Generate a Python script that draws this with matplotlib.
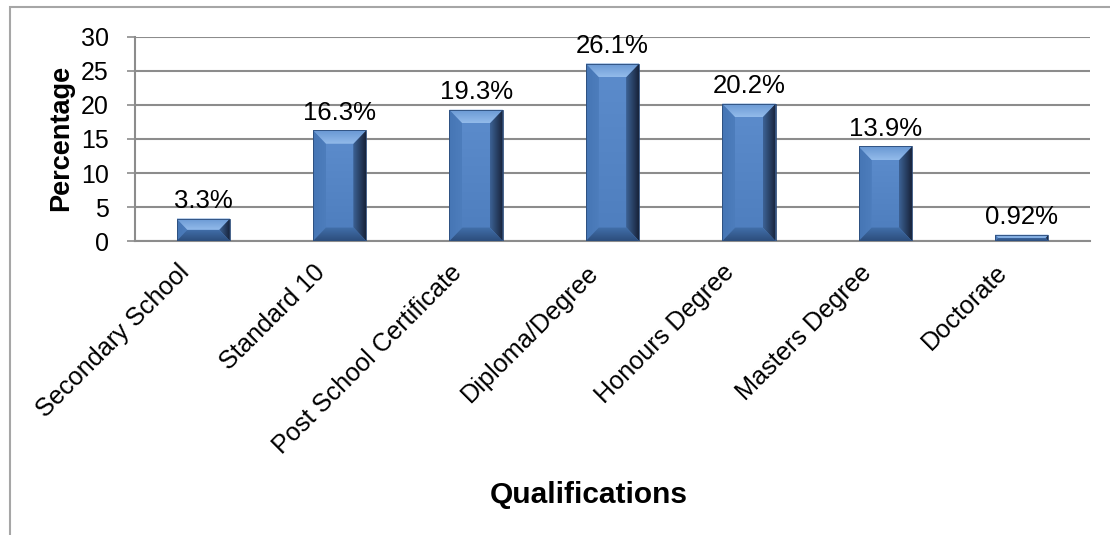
import numpy as np
import matplotlib.pyplot as plt
import matplotlib.transforms as mtransforms
from matplotlib.patches import Polygon, Rectangle
from matplotlib.colors import LinearSegmentedColormap

plt.rcParams['font.family'] = ['Liberation Sans', 'DejaVu Sans']

# qualification levels and share of respondents (%)
categories = ["Secondary School", "Standard 10", "Post School Certificate",
              "Diploma/Degree", "Honours Degree", "Masters Degree", "Doctorate"]
percentages = [3.3, 16.3, 19.3, 26.1, 20.2, 13.9, 0.92]
value_labels = ["3.3%", "16.3%", "19.3%", "26.1%", "20.2%", "13.9%", "0.92%"]
y_ticks = [0, 5, 10, 15, 20, 25, 30]

grid = "#8c8c8c"


def shade(ax, pts, c0, c1, horizontal):
    """fill polygon pts with a linear gradient c0 -> c1"""
    poly = Polygon(pts, closed=True, facecolor="none", edgecolor="none")
    ax.add_patch(poly)
    xs = [p[0] for p in pts]
    ys = [p[1] for p in pts]
    cmap = LinearSegmentedColormap.from_list("g", [c0, c1])
    ramp = np.linspace(0, 1, 64)
    arr = ramp[None, :] if horizontal else ramp[:, None]
    im = ax.imshow(arr, cmap=cmap, extent=(min(xs), max(xs), min(ys), max(ys)),
                   origin="lower", aspect="auto", interpolation="bilinear", zorder=4)
    im.set_clip_path(poly)


fig = plt.figure(figsize=(11.1, 5.35), dpi=100)
ax = fig.add_axes([135 / 1110, 1 - 241 / 535, (1090 - 135) / 1110, (241 - 37) / 535])

x = np.arange(len(categories))
bars = ax.bar(x, percentages, width=0.39, color="#5686c6", zorder=3)

# bevelled bars: light top edge, dark right and bottom edges
for b in bars:
    x0, w, h = b.get_x(), b.get_width(), b.get_height()
    x1 = x0 + w
    dy = min(2.0, h / 2)
    dx = 0.095 * dy / 2.0
    face = [(x0 + dx, dy), (x1 - dx, dy), (x1 - dx, h - dy), (x0 + dx, h - dy)]
    top = [(x0, h), (x1, h), (x1 - dx, h - dy), (x0 + dx, h - dy)]
    bot = [(x0, 0), (x1, 0), (x1 - dx, dy), (x0 + dx, dy)]
    left = [(x0, 0), (x0, h), (x0 + dx, h - dy), (x0 + dx, dy)]
    right = [(x1, 0), (x1, h), (x1 - dx, h - dy), (x1 - dx, dy)]
    if h - 2 * dy > 0:
        shade(ax, face, "#4f7fbf", "#5b8bcb", False)
    shade(ax, left, "#4676b5", "#4d7dbc", True)
    shade(ax, right, "#3d6295", "#17233a", True)
    shade(ax, bot, "#2c4d7c", "#4270ab", False)
    shade(ax, top, "#93bbea", "#6897d3", False)
    ax.add_patch(Rectangle((x0, 0), w, h, facecolor="none", edgecolor="#2a4a78",
                           linewidth=0.6, zorder=5))

for xi, v, lab in zip(x, percentages, value_labels):
    ax.annotate(lab, (xi, v), xytext=(0, 4), textcoords="offset points",
                ha="center", va="bottom", fontsize=18.5, color="black", zorder=6)

ax.set_xlim(-0.5, len(categories) - 0.5)
ax.set_ylim(0, 30)
ax.set_yticks(y_ticks)
ax.tick_params(axis="y", labelsize=18, length=6, width=1.2, color=grid, pad=13)
ax.set_xticks(x)
ax.set_xticklabels(categories, rotation=45, ha="right", va="center",
                   rotation_mode="anchor", fontsize=18.2)
ax.tick_params(axis="x", length=0, pad=20)
shift = mtransforms.ScaledTranslation(-18 / 100, 0, fig.dpi_scale_trans)
for t in ax.get_xticklabels():
    t.set_transform(t.get_transform() + shift)
ax.grid(axis="y", color=grid, linewidth=1.5, zorder=0)
for s in ["top", "right"]:
    ax.spines[s].set_visible(False)
for s in ["left", "bottom"]:
    ax.spines[s].set_color(grid)
    ax.spines[s].set_linewidth(1.5)

fig.text(61 / 1110, 1 - 138 / 535, "Percentage", rotation=90, fontsize=19.5,
         fontweight="bold", ha="center", va="center")
fig.text(589 / 1110, 1 - 495 / 535, "Qualifications", fontsize=21.5,
         fontweight="bold", ha="center", va="center")

# chart frame
fig.patches.append(Rectangle((10 / 1110, -0.1), 1.2, 1 - 7 / 535 + 0.1,
                             transform=fig.transFigure, fill=False,
                             edgecolor="#a6a6a6", linewidth=1.5))

fig.savefig("out.png", dpi=100)
